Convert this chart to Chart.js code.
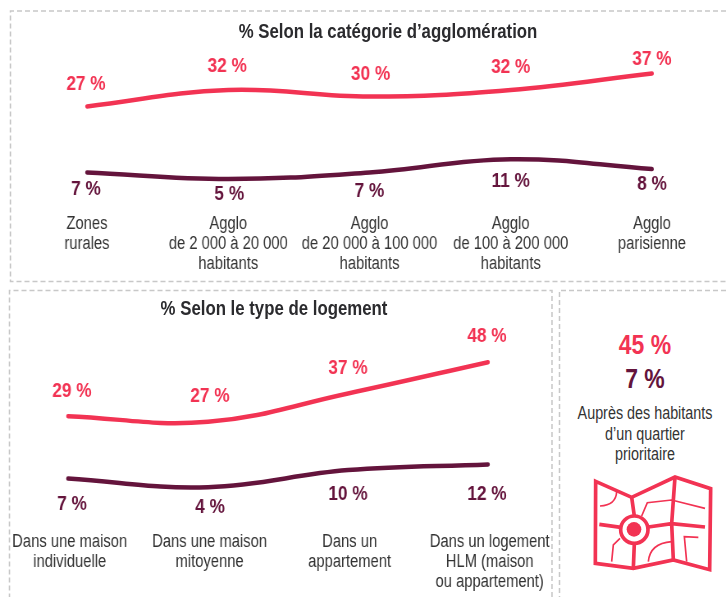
<!DOCTYPE html>
<html lang="fr">
<head>
<meta charset="utf-8">
<title>Selon la catégorie d'agglomération et le type de logement</title>
<script src="https://cdn.jsdelivr.net/npm/chart.js@4/dist/chart.umd.min.js"></script>
<style>
html,body{margin:0;padding:0;background:#fff;width:726px;height:597px;overflow:hidden}
body{position:relative;font-family:"Liberation Sans",sans-serif}
canvas{position:absolute;left:0;transform-origin:0 0}
svg{position:absolute;left:0;top:0}
.t{position:absolute;white-space:nowrap;text-align:center;transform:translateX(-50%) scaleX(.82)}
.title{font-weight:bold;font-size:20px;line-height:24px;color:#2b2b2e;transform:translateX(-50%) scaleX(.84)}
</style>
</head>
<body>
<svg width="726" height="597" fill="none" stroke="#c8c8c8" stroke-width="1.5" stroke-dasharray="5 3">
  <path d="M726 11H10.5V281.5H726"/>
  <path d="M552 597V290.5H9.5V597"/>
  <path d="M726 290.5H559.5V597"/>
</svg>
<svg width="186" height="317" viewBox="0 0 558 951" style="left:540px;top:280px" fill="none" stroke="#f23353" stroke-linejoin="miter">
  <g stroke-width="11">
    <path d="M167 604L275 652L405 591L512 626L509 869L400 840L280 865L166 850Z"/>
    <path d="M275 652L283 708M283 790L280 865M178 733L243 742M325 741L395 731L495 741M405 591L395 731L400 840"/>
    <circle cx="283" cy="749" r="41"/>
  </g>
  <circle cx="282" cy="748" r="22" fill="#f23353" stroke="none"/>
  <g stroke-width="5">
    <path d="M180 678Q228 675 230 635"/>
    <path d="M305 708L322 668L395 660L495 685"/>
    <path d="M240 775L220 795L215 845"/>
    <path d="M325 845Q330 790 395 785"/>
    <path d="M440 845L433 770L475 772"/>
  </g>
</svg>
<canvas id="c1" style="top:0"></canvas>
<canvas id="c2" style="top:285px"></canvas>
<div class="t title" style="left:388px;top:19px">% Selon la catégorie d’agglomération</div>
<div class="t title" style="left:274px;top:296px">% Selon le type de logement</div>
<div class="t" style="left:645px;top:327px;font-weight:bold;font-size:28px;line-height:36px;color:#f23353">45 %</div>
<div class="t" style="left:645px;top:361px;font-weight:bold;font-size:28px;line-height:36px;color:#64143c">7 %</div>
<div class="t" style="left:645px;top:403px;font-size:17.5px;line-height:20.5px;color:#333">Auprès des habitants<br>d’un quartier<br>prioritaire</div>
<script>
const RED = '#f23353';
const PURPLE = '#64143c';
const SQUEEZE = 0.82; /* the canvases are narrowed horizontally to give the condensed lettering */

const aggloCategories = [['Zones','rurales'],['Agglo','de 2 000 à 20 000','habitants'],['Agglo','de 20 000 à 100 000','habitants'],['Agglo','de 100 à 200 000','habitants'],['Agglo','parisienne']];
const aggloRed = [27, 32, 30, 32, 37];
const aggloPurple = [7, 5, 7, 11, 8];

const logementCategories = [['Dans une maison','individuelle'],['Dans une maison','mitoyenne'],['Dans un','appartement'],['Dans un logement','HLM (maison','ou appartement)']];
const logementRed = [29, 27, 37, 48];
const logementPurple = [7, 4, 10, 12];

/* label placement relative to each point, in pixels */
const aggloOffsets = [[[-1,-22],[-1,-24],[1,-22.5],[0,-23],[0,-14]], [[-1,17],[1,15],[0,19],[0,22],[0,15]]];
const logementOffsets = [[[4,-25],[2,-26],[0,-25],[-1,-26]], [[4,26],[2,20],[0,24],[-1,30]]];

const valueLabels = {
  id:'valueLabels',
  afterDatasetsDraw(chart, args, opts){
    const ctx = chart.ctx;
    ctx.save();
    ctx.font = 'bold 21px "Liberation Sans",sans-serif';
    ctx.textAlign = 'center';
    ctx.textBaseline = 'middle';
    chart.data.datasets.forEach((ds, i) => {
      ctx.fillStyle = ds.borderColor;
      chart.getDatasetMeta(i).data.forEach((pt, j) => {
        const o = opts.offsets[i][j];
        ctx.fillText(ds.data[j] + ' %', pt.x + o[0] / SQUEEZE, pt.y + o[1]);
      });
    });
    ctx.restore();
  }
};

function makeChart(id, w, h, labels, red, purple, cfg){
  const el = document.getElementById(id);
  const W = Math.round(w / SQUEEZE);
  el.width = W; el.height = h;
  el.style.width = W + 'px'; el.style.height = h + 'px';
  el.style.transform = 'scaleX(' + (w / W) + ')';
  const line = (data, color) => ({data, borderColor:color, backgroundColor:color, borderWidth:4.5, borderCapStyle:'round', borderJoinStyle:'round', tension:0.4, pointRadius:0, pointHoverRadius:0, fill:false, clip:false});
  return new Chart(el, {
    type:'line',
    data:{labels, datasets:[line(red, RED), line(purple, PURPLE)]},
    options:{
      responsive:false, animation:false, devicePixelRatio:1,
      layout:{padding:{left:cfg.left * W / w, right:cfg.right * W / w, top:cfg.top, bottom:0}},
      plugins:{legend:{display:false}, tooltip:{enabled:false}, title:{display:false}, valueLabels:{offsets:cfg.offsets}},
      scales:{
        x:{offset:false, grid:{display:false}, border:{display:false},
           afterFit(s){ s.height = cfg.axisHeight; s.paddingLeft = 0; s.paddingRight = 0; },
           ticks:{autoSkip:false, maxRotation:0, minRotation:0, padding:cfg.tickPad, labelOffset:cfg.labelShift, color:'#333',
                  font:{family:'"Liberation Sans",sans-serif', size:18, lineHeight:1.11}}},
        y:{display:false, min:0, max:cfg.yMax}
      }
    },
    plugins:[valueLabels]
  });
}

makeChart('c1', 726, 283, aggloCategories, aggloRed, aggloPurple,
  {left:87, right:74, top:63.5, axisHeight:87.5, tickPad:11, labelShift:0, yMax:40, offsets:aggloOffsets});
makeChart('c2', 552, 312, logementCategories, logementRed, logementPurple,
  {left:68, right:64, top:43.1, axisHeight:98.5, tickPad:26, labelShift:2, yMax:60, offsets:logementOffsets});
</script>
</body>
</html>
